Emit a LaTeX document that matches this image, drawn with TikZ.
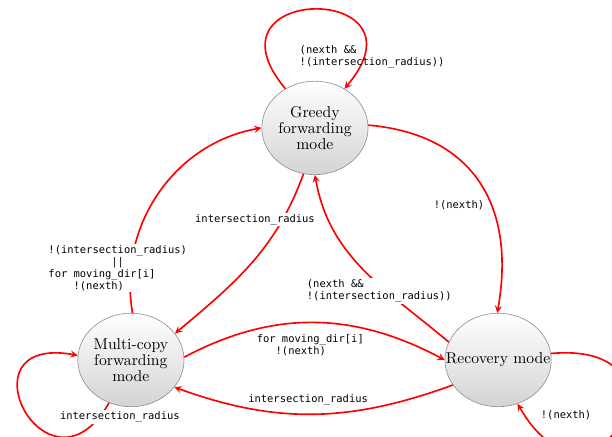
\documentclass[tikz,border=0pt]{standalone}
\usepackage{fontspec}
\newfontfamily\condfont{DejaVu Sans Mono}
\usepackage{tikz}
\usetikzlibrary{positioning, shapes.geometric}

\begin{document}
\begin{tikzpicture}[
    mode/.style={ellipse, draw=black!45, top color=white, bottom color=black!17, minimum width=2.5cm, minimum height=2.2cm, inner sep=0pt, align=center, font=\fontsize{10.5}{10.8}\selectfont},
    trans/.style={->, >=stealth, draw=red, line width=1.1pt},
    cond/.style={font=\condfont\scriptsize, inner sep=1pt, align=left},
    cover/.style={cond, fill=white},
    on grid
  ]

  \node[mode] (greedy) at (0,0) {Greedy\\forwarding\\mode};
  \useasboundingbox (-7.41,3.01) rectangle (6.99,-7.25);
  \node[mode] (multi) [below left=5.46cm and 4.33cm of greedy] {Multi-copy\\forwarding\\mode};
  \node[mode] (recovery) [right=8.64cm of multi] {\makebox[1cm]{Recovery mode}};

  \draw[trans] (greedy.127) to[out=130, in=50, looseness=6] (greedy.53);
  \draw[trans] (greedy.3) to[out=-5, in=80, looseness=1.2] (recovery.91);
  \draw[trans] (recovery.160) to[out=140, in=-80] (greedy.-90);
  \draw[trans] (greedy.-104) to[out=-110, in=40] (multi.31);
  \draw[trans] (multi.88) to[out=100, in=190] (greedy.180);
  \draw[trans] (multi.3) to[out=28, in=152] (recovery.180);
  \draw[trans] (recovery.209) to[out=200, in=-20] (multi.-32);
  \draw[trans] (multi.-117) to[out=-120, in=170, looseness=5.5] (multi.175);
  \draw[trans] (recovery.7) to[out=5, in=-60, looseness=6.5] (recovery.-66);

  % conditions
  \node[cond, anchor=west] (cgg) at ([shift={(-0.40,1.67)}]greedy.center) {(nexth \&\&\\!(intersection\_radius))};
  \node[cond] (cgr) at ([shift={(-0.92,3.65)}]recovery.center) {!(nexth)};
  \node[cover, anchor=west] (crg) at ([shift={(-4.54,1.62)}]recovery.center) {(nexth \&\&\\!(intersection\_radius))};
  \node[cover] (cgm) at ([shift={(-1.41,-2.16)}]greedy.center) {intersection\_radius};
  \node[cover] (cmg) at ([shift={(-0.31,2.16)}]multi.center) {!(intersection\_radius)\\\phantom{0000000000}||\\for moving\_dir[i]\\\phantom{0000}!(nexth)};
  \node[cond, anchor=west] (cmr) at ([shift={(2.92,0.35)}]multi.center) {for moving\_dir[i]\\\phantom{000}!(nexth)};
  \node[cond] (crm) at ([shift={(-4.47,-0.94)}]recovery.center) {intersection\_radius};
  \node[cover] (cmm) at ([shift={(-0.26,-1.34)}]multi.center) {intersection\_radius};
  \node[cond] (crr) at ([shift={(1.60,-1.29)}]recovery.center) {!(nexth)};

\end{tikzpicture}
\end{document}
